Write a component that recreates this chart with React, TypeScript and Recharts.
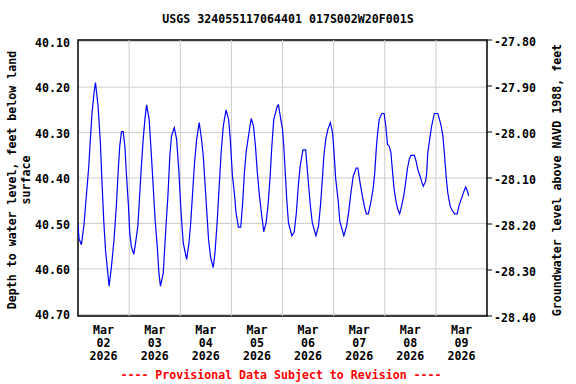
import React from 'react';
import { LineChart, Line, XAxis, YAxis, CartesianGrid, ReferenceArea, ReferenceLine } from 'recharts';

const title = 'USGS 324055117064401 017S002W20F001S';
const leftTitle1 = 'Depth to water level, feet below land';
const leftTitle2 = 'surface';
const rightTitle = 'Groundwater level above NAVD 1988, feet';
const footer = '---- Provisional Data Subject to Revision ----';

// hours since Mar 02 2026 00:00
const hours = [
  0, 0.5, 1.6, 2.8, 3.9, 5.0, 5.8, 6.6, 7.6, 8.2, 9.4, 10.5, 11.3, 12.1, 12.9, 14.6, 15.7, 16.9, 18.0, 19.0,
  19.6, 20.4, 21.2, 22.0, 22.7, 23.7, 24.3, 25.0, 26.2, 27.1, 28.1, 29.0, 29.8, 30.6, 31.4, 32.2, 33.4, 34.2,
  35.3, 36.2, 37.2, 38.0, 38.7, 40.0, 41.3, 42.2, 43.1, 43.9, 45.2, 46.3, 47.4, 48.3, 49.4, 51.0, 52.1, 52.9,
  53.8, 54.7, 55.7, 56.9, 58.0, 58.8, 59.6, 60.5, 61.3, 62.3, 63.5, 64.3, 65.3, 66.2, 67.2, 68.2, 69.5, 70.7,
  71.5, 72.5, 73.4, 74.2, 75.3, 76.4, 77.3, 78.1, 78.9, 79.8, 81.3, 82.4, 83.3, 84.2, 85.2, 86.1, 87.2, 88.3,
  89.3, 90.2, 91.0, 91.9, 93.6, 94.1, 95.2, 96.0, 96.6, 97.3, 98.0, 98.8, 100.4, 101.5, 102.5, 103.4, 104.3,
  105.6, 106.9, 107.5, 108.3, 109.1, 110.0, 111.7, 112.9, 113.8, 114.7, 115.4, 116.3, 117.3, 118.5, 119.5,
  120.1, 121.0, 122.1, 122.9, 124.8, 126.1, 127.2, 128.1, 129.2, 130.6, 131.4, 132.4, 133.5, 134.6, 135.4,
  136.3, 137.4, 138.5, 139.3, 140.0, 140.6, 141.4, 142.6, 143.7, 144.5, 145.3, 146.1, 146.9, 147.7, 148.4,
  149.4, 150.2, 151.0, 151.9, 152.9, 153.8, 154.7, 155.5, 156.3, 157.9, 158.7, 159.5, 160.6, 161.4, 162.1,
  163.1, 163.7, 164.2, 165.1, 166.0, 167.3, 168.9, 169.7, 170.5, 171.3, 172.1, 172.8, 173.6, 174.7, 175.5,
  176.8, 178.0, 178.8, 179.6, 180.4, 181.2, 182.0, 182.8, 183.4,
];

const depth = [
  40.503, 40.534, 40.547, 40.503, 40.44, 40.378, 40.315, 40.256, 40.21, 40.19, 40.241, 40.322, 40.414, 40.495,
  40.558, 40.638, 40.595, 40.536, 40.462, 40.374, 40.33, 40.298, 40.298, 40.33, 40.389, 40.462, 40.521, 40.55,
  40.568, 40.54, 40.506, 40.433, 40.37, 40.315, 40.271, 40.239, 40.271, 40.33, 40.418, 40.492, 40.551, 40.61,
  40.638, 40.61, 40.506, 40.44, 40.352, 40.308, 40.289, 40.315, 40.389, 40.47, 40.543, 40.579, 40.543, 40.499,
  40.433, 40.367, 40.315, 40.278, 40.315, 40.352, 40.41, 40.477, 40.536, 40.576, 40.597, 40.565, 40.499, 40.425,
  40.344, 40.286, 40.25, 40.271, 40.315, 40.396, 40.433, 40.477, 40.508, 40.508, 40.455, 40.389, 40.344, 40.315,
  40.269, 40.286, 40.33, 40.389, 40.44, 40.477, 40.518, 40.499, 40.455, 40.396, 40.33, 40.271, 40.241, 40.239,
  40.271, 40.293, 40.33, 40.389, 40.448, 40.499, 40.527, 40.519, 40.477, 40.418, 40.374, 40.338, 40.338, 40.374,
  40.418, 40.462, 40.499, 40.527, 40.506, 40.462, 40.403, 40.352, 40.315, 40.293, 40.278, 40.3, 40.337, 40.403,
  40.448, 40.495, 40.527, 40.506, 40.47, 40.433, 40.396, 40.378, 40.378, 40.41, 40.44, 40.466, 40.479, 40.479,
  40.455, 40.425, 40.389, 40.337, 40.304, 40.271, 40.258, 40.258, 40.286, 40.326, 40.33, 40.344, 40.389, 40.425,
  40.455, 40.47, 40.479, 40.462, 40.44, 40.41, 40.378, 40.359, 40.35, 40.35, 40.363, 40.381, 40.396, 40.409,
  40.418, 40.408, 40.389, 40.344, 40.315, 40.286, 40.258, 40.258, 40.271, 40.286, 40.308, 40.352, 40.396, 40.433,
  40.462, 40.47, 40.479, 40.479, 40.462, 40.451, 40.44, 40.429, 40.42, 40.429, 40.439,
];

const gridHours = [24, 48, 72, 96, 120, 144, 168];
const labelHours = [12, 36, 60, 84, 108, 132, 156, 180];
const dayLabels = [
  ['Mar', '02', '2026'],
  ['Mar', '03', '2026'],
  ['Mar', '04', '2026'],
  ['Mar', '05', '2026'],
  ['Mar', '06', '2026'],
  ['Mar', '07', '2026'],
  ['Mar', '08', '2026'],
  ['Mar', '09', '2026'],
];
const leftTicks = [40.1, 40.2, 40.3, 40.4, 40.5, 40.6, 40.7];
const leftDomain = [40.0963, 40.7037];
const rightTicks = [-27.8, -27.9, -28.0, -28.1, -28.2, -28.3, -28.4];
const rightDomain = [-28.4, -27.8];

const data = hours.map((h, i) => ({ h, d: depth[i] }));

const FONT = '"DejaVu Sans Mono", monospace';
const FS = 11.6;
const textStyle = { fontFamily: FONT, fontSize: FS, fontWeight: 'bold' as const, fill: '#000' };

const DateTick = (props: any) => {
  const { x, y, payload } = props;
  const idx = labelHours.indexOf(payload.value);
  const lines = idx >= 0 ? dayLabels[idx] : [];
  return (
    <g>
      {lines.map((s, i) => (
        <text key={i} x={x} y={y + 18 + i * 13} textAnchor="middle" {...textStyle}>
          {s}
        </text>
      ))}
    </g>
  );
};

const LeftTitle = () => (
  <g>
    <text x={288} y={23} textAnchor="middle" {...textStyle}>
      {title}
    </text>
    <text x={16} y={180} textAnchor="middle" transform="rotate(-90, 16, 180)" {...textStyle}>
      {leftTitle1}
    </text>
    <text x={30} y={180} textAnchor="middle" transform="rotate(-90, 30, 180)" {...textStyle}>
      {leftTitle2}
    </text>
  </g>
);

const RightTitle = () => (
  <g>
    <text x={561} y={180} textAnchor="middle" transform="rotate(-90, 561, 180)" {...textStyle}>
      {rightTitle}
    </text>
  </g>
);

const FooterLabel = () => (
  <text x={281} y={379} textAnchor="middle" {...textStyle} fill="#ff0000">
    {footer}
  </text>
);

export default function App() {
  return (
    <div style={{ position: 'absolute', left: 0, top: 0, width: 576, height: 384, background: '#fff' }}>
      <LineChart width={576} height={384} data={data} margin={{ top: 40, right: 0, bottom: 0, left: 0 }}>
        <CartesianGrid xAxisId="lab" yAxisId="left" stroke="#cccccc" strokeWidth={1} vertical={false} />
        <XAxis
          xAxisId="lab"
          dataKey="h"
          type="number"
          domain={[0, 192]}
          ticks={labelHours}
          allowDataOverflow
          height={68}
          tickSize={0}
          tickMargin={0}
          axisLine={false}
          tickLine={false}
          tick={<DateTick />}
          interval={0}
          label={{ content: () => <FooterLabel /> }}
        />
        <YAxis
          yAxisId="left"
          orientation="left"
          reversed
          type="number"
          domain={leftDomain}
          ticks={leftTicks}
          allowDataOverflow
          width={78}
          axisLine={false}
          tickLine={false}
          interval={0}
          tickFormatter={(v: number) => v.toFixed(2)}
          tick={{ ...textStyle, dy: 1 }}
          label={{ content: () => <LeftTitle /> }}
        />
        <YAxis
          yAxisId="right"
          orientation="right"
          type="number"
          domain={rightDomain}
          ticks={rightTicks}
          allowDataOverflow
          width={89}
          axisLine={false}
          tickLine={{ stroke: '#000' }}
          tickSize={5}
          tickMargin={2}
          interval={0}
          tickFormatter={(v: number) => v.toFixed(2)}
          tick={{ ...textStyle, textAnchor: 'start', dy: 2 }}
          label={{ content: () => <RightTitle /> }}
        />
        {gridHours.map((h) => (
          <ReferenceLine key={h} xAxisId="lab" yAxisId="left" x={h} stroke="#cccccc" strokeWidth={1} />
        ))}
        <ReferenceArea
          xAxisId="lab"
          yAxisId="right"
          x1={0}
          x2={192}
          y1={rightDomain[0]}
          y2={rightDomain[1]}
          fill="none"
          stroke="#000"
          strokeWidth={1.5}
          ifOverflow="visible"
        />
        <Line
          xAxisId="lab"
          yAxisId="left"
          type="linear"
          dataKey="d"
          stroke="#0000ff"
          strokeWidth={1.2}
          dot={false}
          isAnimationActive={false}
        />
      </LineChart>
    </div>
  );
}
